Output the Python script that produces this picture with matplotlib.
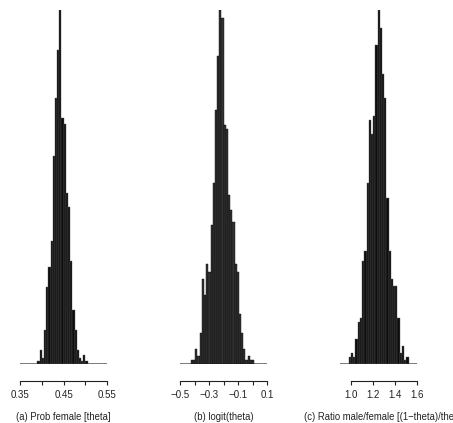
import numpy as np
import matplotlib.pyplot as plt

plt.rcParams['font.family'] = ['Liberation Sans', 'DejaVu Sans']

# posterior simulation histograms: counts per bin
prob_start, prob_width = 0.39, 0.005
prob_counts = [1, 5, 2, 12, 27, 34, 43, 73, 93, 110, 124, 86, 84, 60, 55, 36,
               19, 12, 5, 2, 1, 3, 1]

logit_start, logit_width = -0.425, 0.015
logit_counts = [1, 1, 4, 2, 8, 22, 18, 26, 24, 36, 47, 66, 80, 92, 90, 62, 61,
                44, 40, 37, 26, 24, 13, 8, 4, 1, 2, 1, 1]

ratio_start, ratio_width = 0.98, 0.02
ratio_counts = [2, 3, 2, 7, 12, 13, 29, 32, 51, 69, 65, 70, 90, 100, 95, 82, 75,
                47, 32, 24, 22, 22, 13, 3, 5, 1, 2]

prob_ticks = [0.35, 0.40, 0.45, 0.50, 0.55]
prob_labels = ['0.35', '', '0.45', '', '0.55']
logit_ticks = [-0.5, -0.4, -0.3, -0.2, -0.1, 0.0, 0.1]
logit_labels = ['\u22120.5', '', '\u22120.3', '', '\u22120.1', '', '0.1']
ratio_ticks = [1.0, 1.2, 1.4, 1.6]
ratio_labels = ['1.0', '1.2', '1.4', '1.6']

captions = ['(a) Prob female [theta]',
            '(b) logit(theta)',
            '(c) Ratio male/female [(1\u2212theta)/theta]']

W, H = 453, 423
fig = plt.figure(figsize=(W / 100, H / 100), dpi=100)

panels = [
    # left px, xlim, start, width, counts, ticks, labels, colours
    (20.0, (0.35, 0.55), prob_start, prob_width, prob_counts,
     prob_ticks, prob_labels, '#0c0c0c', '#5a5a5a'),
    (180.0, (-0.5, 0.1), logit_start, logit_width, logit_counts,
     logit_ticks, logit_labels, '#333333', '#050505'),
    (340.0, (0.9, 1.6), ratio_start, ratio_width, ratio_counts,
     ratio_ticks, ratio_labels, '#0c0c0c', '#5a5a5a'),
]
scales = [87.3 / 0.2, 87.3 / 0.6, 66.3 / 0.6]   # px per data unit

bottom_px, top_px = 364, 10
for (left, xlim, start, bw, counts, ticks, labels, fc, ec), sc, cap in zip(panels, scales, captions):
    width_px = (xlim[1] - xlim[0]) * sc
    ax = fig.add_axes([left / W, (H - bottom_px) / H,
                       width_px / W, (bottom_px - top_px) / H])
    counts = np.array(counts)
    edges = start + bw * np.arange(len(counts) + 1)
    ax.bar(edges[:-1], counts, width=bw, align='edge',
           color=fc, edgecolor=ec, linewidth=0.3, zorder=2)
    ax.plot(xlim, [0, 0], color='#707070', lw=1.3, zorder=1,
            solid_capstyle='butt')
    ax.set_xlim(*xlim)
    ax.set_ylim(0, counts.max())
    for s in ['top', 'right', 'left']:
        ax.spines[s].set_visible(False)
    ax.spines['bottom'].set_position(('outward', 12.5))
    ax.spines['bottom'].set_bounds(ticks[0], ticks[-1])
    ax.spines['bottom'].set_linewidth(0.8)
    ax.spines['bottom'].set_color('#222222')
    ax.set_yticks([])
    ax.set_xticks(ticks)
    ax.set_xticklabels(labels)
    ax.tick_params(axis='x', length=3.2, width=0.8, pad=3.2,
                   labelsize=7, colors='#222222')
    ax.patch.set_visible(False)
    cx = left + ((ticks[0] + ticks[-1]) / 2 - xlim[0]) * sc
    fig.text(cx / W, 6 / H, cap, ha='center', va='center', fontsize=6.85,
             color='#222222')

fig.savefig('out.png', dpi=100)
